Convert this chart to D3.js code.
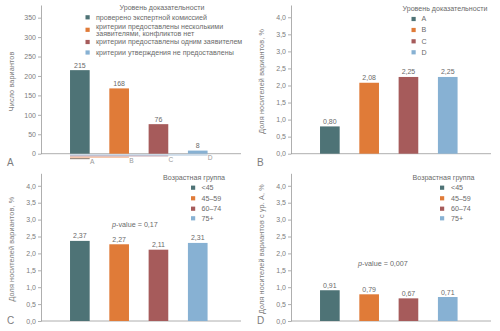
<!DOCTYPE html>
<html>
<head>
<meta charset="utf-8">
<script src="https://cdn.jsdelivr.net/npm/d3@7/dist/d3.min.js"></script>
<style>
  body { margin: 0; background: #fff; }
  svg { display: block; font-family: "Liberation Sans", Arial, sans-serif; }
  .axis path, .axis line { stroke: #9a9a9a; stroke-width: 0.8; }
  .axis text { fill: #7d7d7d; font-size: 7px; }
</style>
</head>
<body>
<div id="chart"></div>
<script>
// Data
const levels = ['A', 'B', 'C', 'D']
const levelNames = [
  ['проверено экспертной комиссией'],
  ['критерии предоставлены несколькими', 'заявителями, конфликтов нет'],
  ['критерии предоставлены одним заявителем'],
  ['критерии утверждения не предоставлены']
]
const variantCounts = [215, 168, 76, 8]
const carrierShareByLevel = [0.80, 2.08, 2.25, 2.25]
const ageGroups = ['<45', '45–59', '60–74', '75+']
const carrierShareByAge = [2.37, 2.27, 2.11, 2.31]
const levelAShareByAge = [0.91, 0.79, 0.67, 0.71]
const countTicks = [0, 50, 100, 150, 200, 250, 300, 350]
const shareTicks = [0, 0.5, 1, 1.5, 2, 2.5, 3, 3.5, 4]
const palette = ['#4e7376', '#e07b38', '#a65b5b', '#87b1d3']

const ru = d3.formatLocale({ decimal: ',', thousands: ' ', grouping: [3], currency: ['', ''] })
const fmt1 = ru.format('.1f')
const fmt2 = ru.format('.2f')

const svg = d3.select('#chart').append('svg')
  .attr('width', 500).attr('height', 331)

const drawPanel = ({ x0, y0, yTop, values, yMax, ticks, tickFormat, valueFormat,
                     yTitle, letter, legendTitle, legendItems, legend, pValue }) => {
  const g = svg.append('g')
  const xScale = d3.scaleBand()
    .domain(d3.range(values.length))
    .range([x0 + 19.2, x0 + 176.4])
    .paddingInner(0.5)
    .paddingOuter(0.25)
  const yScale = d3.scaleLinear().domain([0, yMax]).range([y0, yTop])

  // Axes
  g.append('g').attr('class', 'axis')
    .attr('transform', `translate(${x0},0)`)
    .call(d3.axisLeft(yScale).tickValues(ticks).tickFormat(tickFormat)
      .tickSize(3).tickSizeOuter(0).tickPadding(2))
  g.append('line')
    .attr('x1', x0).attr('x2', x0 + 200)
    .attr('y1', y0).attr('y2', y0)
    .attr('stroke', '#9a9a9a').attr('stroke-width', 0.8)

  // Bars
  g.selectAll('rect.bar').data(values).join('rect')
    .attr('class', 'bar')
    .attr('x', (d, i) => xScale(i))
    .attr('width', xScale.bandwidth())
    .attr('y', d => yScale(d))
    .attr('height', d => y0 - yScale(d))
    .attr('fill', (d, i) => palette[i])

  g.selectAll('text.value').data(values).join('text')
    .attr('class', 'value')
    .attr('x', (d, i) => xScale(i) + xScale.bandwidth() / 2)
    .attr('y', d => yScale(d) - 2.5)
    .attr('text-anchor', 'middle')
    .attr('font-size', 7)
    .attr('fill', '#6a6a6a')
    .text(valueFormat)

  // Y title
  g.append('text')
    .attr('transform', `translate(${x0 - 27.5},${(y0 + yTop) / 2 + 2}) rotate(-90)`)
    .attr('text-anchor', 'middle')
    .attr('font-size', 7.2)
    .attr('letter-spacing', 0.15)
    .attr('fill', '#7d7d7d')
    .text(yTitle)

  // Panel letter
  g.append('text')
    .attr('x', x0 - 34).attr('y', letter.y)
    .attr('font-size', 10)
    .attr('fill', '#7d7d7d')
    .text(letter.text)

  // Legend
  g.append('text')
    .attr('x', legend.titleX).attr('y', legend.titleY)
    .attr('text-anchor', 'middle')
    .attr('font-size', 7.1)
    .attr('fill', '#6a6a6a')
    .text(legendTitle)
  legendItems.forEach((lines, i) => {
    const cy = legend.rows[i]
    g.append('rect')
      .attr('x', legend.boxX).attr('y', cy - 2.1)
      .attr('width', 4.2).attr('height', 4.2)
      .attr('fill', palette[i])
    const t = g.append('text')
      .attr('x', legend.textX)
      .attr('y', cy + 2.4 - (lines.length - 1) * 3.5)
      .attr('font-size', 7.1)
      .attr('fill', '#6a6a6a')
    lines.forEach((line, j) => {
      t.append('tspan').attr('x', legend.textX).attr('dy', j ? 7 : 0).text(line)
    })
  })

  if (pValue) {
    const t = g.append('text')
      .attr('x', pValue.x).attr('y', pValue.y)
      .attr('text-anchor', 'middle')
      .attr('font-size', 7.2)
      .attr('fill', '#6a6a6a')
    t.append('tspan').attr('font-style', 'italic').text('p')
    t.append('tspan').text(`-value = ${pValue.text}`)
  }
  return { g, xScale }
}

// A: number of variants per evidence level
const panelA = drawPanel({
  x0: 41, y0: 153.7, yTop: 5, values: variantCounts, yMax: 382.6,
  ticks: countTicks, tickFormat: d3.format('d'), valueFormat: d3.format('d'),
  yTitle: 'Число вариантов', letter: { text: 'A', y: 165.5 },
  legendTitle: 'Уровень доказательности', legendItems: levelNames,
  legend: { titleX: 162, titleY: 9.5, boxX: 85.5, textX: 96, rows: [17.3, 29.8, 42, 52.5] }
})

// staggered level markers under the x axis of panel A
const markerColors = ['#9e8e82', '#f2b692', '#c9a7b0', '#a9c3dc']
const markerY = [158.6, 157.1, 155.9, 155]
const labelY = [161.8, 160.6, 159.2, 157.8]
levels.forEach((lv, i) => {
  const xs = panelA.xScale
  const xEnd = xs(i) + xs.bandwidth()
  panelA.g.append('line')
    .attr('x1', xs(0)).attr('x2', xEnd)
    .attr('y1', markerY[i]).attr('y2', markerY[i])
    .attr('stroke', markerColors[i]).attr('stroke-width', 1.2)
  panelA.g.append('text')
    .attr('x', xEnd + 2.5).attr('y', labelY[i] + 2.3)
    .attr('text-anchor', 'middle')
    .attr('font-size', 6.6)
    .attr('fill', '#9a9a9a')
    .text(lv)
})

// B: share of carriers per evidence level
drawPanel({
  x0: 291, y0: 153.7, yTop: 5, values: carrierShareByLevel, yMax: 4.36,
  ticks: shareTicks, tickFormat: fmt1, valueFormat: fmt2,
  yTitle: 'Доля носителей вариантов, %', letter: { text: 'B', y: 165.5 },
  legendTitle: 'Уровень доказательности', legendItems: levels.map(d => [d]),
  legend: { titleX: 445, titleY: 11, boxX: 411.5, textX: 421.5, rows: [19, 30, 41.3, 52.3] }
})

// C: share of carriers per age group
drawPanel({
  x0: 41, y0: 321, yTop: 173.3, values: carrierShareByAge, yMax: 4.37,
  ticks: shareTicks, tickFormat: fmt1, valueFormat: fmt2,
  yTitle: 'Доля носителей вариантов, %', letter: { text: 'C', y: 324 },
  legendTitle: 'Возрастная группа', legendItems: ageGroups.map(d => [d]),
  legend: { titleX: 194, titleY: 180, boxX: 191, textX: 201.5, rows: [187.7, 198.3, 208.7, 218.3] },
  pValue: { x: 135, y: 227, text: '0,17' }
})

// D: share of level A carriers per age group
drawPanel({
  x0: 291, y0: 321, yTop: 173.3, values: levelAShareByAge, yMax: 4.37,
  ticks: shareTicks, tickFormat: fmt1, valueFormat: fmt2,
  yTitle: 'Доля носителей вариантов с ур. А, %', letter: { text: 'D', y: 324 },
  legendTitle: 'Возрастная группа', legendItems: ageGroups.map(d => [d]),
  legend: { titleX: 443.5, titleY: 180, boxX: 440, textX: 451, rows: [187.7, 198.3, 208.7, 218.3] },
  pValue: { x: 383, y: 265.5, text: '0,007' }
})
</script>
</body>
</html>
